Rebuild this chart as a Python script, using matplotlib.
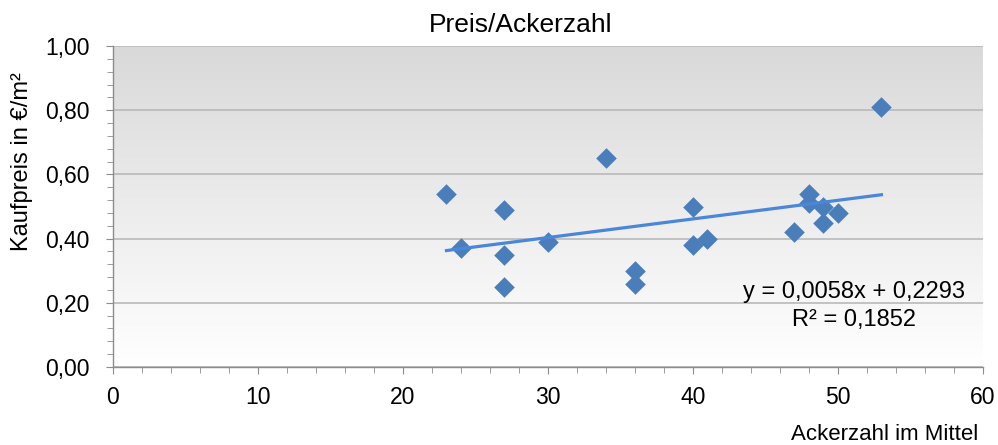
import numpy as np
import matplotlib
matplotlib.use('Agg')
import matplotlib.pyplot as plt
from matplotlib.ticker import MultipleLocator, FuncFormatter

plt.rcParams['font.family'] = ['Liberation Sans', 'DejaVu Sans']

# data
ackerzahl = [23, 24, 27, 27, 27, 30, 34, 36, 36, 40, 40, 41, 47, 48, 48, 49, 49, 50, 53]
kaufpreis = [0.54, 0.37, 0.49, 0.35, 0.25, 0.39, 0.65, 0.30, 0.26, 0.50, 0.38, 0.40,
             0.42, 0.54, 0.51, 0.50, 0.45, 0.48, 0.81]
slope = 0.0058
intercept = 0.2293
r2 = 0.1852

fig = plt.figure(figsize=(9.98, 4.45), dpi=100)
ax = fig.add_axes([0.1132, 0.1753, 0.8717, 0.7213])

# gray -> white gradient background
grad = np.linspace(0, 1, 256).reshape(-1, 1)
ax.imshow(grad, extent=[0, 1, 0, 1], transform=ax.transAxes, aspect='auto',
          cmap=matplotlib.colors.LinearSegmentedColormap.from_list('g', ['#d9d9d9', '#ffffff']),
          origin='upper', zorder=0)

ax.set_xlim(0, 60)
ax.set_ylim(0, 1)
ax.yaxis.grid(True, color='#b9b9b9', linewidth=1.2, zorder=1)
ax.set_axisbelow(True)

ax.scatter(ackerzahl, kaufpreis, marker='D', s=110, color='#4a7ebb', zorder=3, linewidths=0)

xs = np.array([min(ackerzahl), max(ackerzahl)])
ax.plot(xs, slope * xs + intercept, color='#4a87d8', linewidth=2.3, zorder=4)

eq = f'y = {slope:.4f}x + {intercept:.4f}\nR² = {r2:.4f}'.replace('.', ',')
fig.text(854 / 998, 1 - 306 / 445, eq, ha='center', va='center', fontsize=17, linespacing=1.3)

ax.xaxis.set_major_locator(MultipleLocator(10))
ax.xaxis.set_minor_locator(MultipleLocator(2))
ax.yaxis.set_major_locator(MultipleLocator(0.2))
ax.yaxis.set_minor_locator(MultipleLocator(0.04))
ax.yaxis.set_major_formatter(FuncFormatter(lambda v, p: f'{v:.2f}'.replace('.', ',')))

for s in ['top', 'right']:
    ax.spines[s].set_visible(False)
for s in ['left', 'bottom']:
    ax.spines[s].set_color('#8c8c8c')
    ax.spines[s].set_linewidth(1.0)

ax.tick_params(which='major', direction='out', length=5, color='#8c8c8c', labelsize=16.5)
ax.tick_params(which='minor', direction='out', length=4, color='#8c8c8c')
ax.tick_params(axis='y', which='major', pad=12)
ax.tick_params(axis='x', which='major', pad=9)

fig.text(521 / 998, 1 - 25 / 445, 'Preis/Ackerzahl', ha='center', va='center', fontsize=19)
fig.text(978 / 998, 1 - 434 / 445, 'Ackerzahl im Mittel', ha='right', va='center', fontsize=16)
fig.text(22 / 998, 1 - 162 / 445, 'Kaufpreis in €/m²', ha='center', va='center',
         rotation=90, fontsize=17)

fig.savefig('out.png', dpi=100)
